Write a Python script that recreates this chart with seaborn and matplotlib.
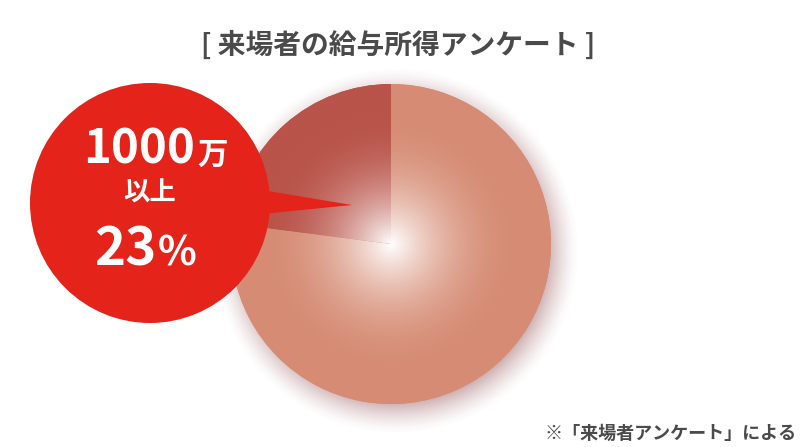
import numpy as np
import matplotlib
matplotlib.use("Agg")
import matplotlib.pyplot as plt
import seaborn as sns
from matplotlib.colors import to_rgb
from matplotlib.patches import Circle, Polygon

# survey data
labels = ["1000万以上", "1000万未満"]
shares = [23, 77]
slice_colors = ["#b9544a", "#d68c74"]
title = "[ 来場者の給与所得アンケート ]"
note = "※「来場者アンケート」による"

sns.set_theme(style="white")
plt.rcParams['font.family'] = ['Noto Sans CJK JP', 'DejaVu Sans']

fig = plt.figure(figsize=(8, 4.47), dpi=100)
ax = fig.add_axes([0, 0, 1, 1])

cx, cy, R = 391, 244, 160

# soft shadow behind the pie
n = 400
sx, sy = cx + 5, cy + 7
ext = R + 45
gx, gy = np.meshgrid(np.linspace(sx - ext, sx + ext, n), np.linspace(sy - ext, sy + ext, n))
d = np.hypot(gx - sx, gy - sy)
a = np.clip((R + 24 - d) / 40, 0, 1) ** 1.5 * 0.65
shadow = np.zeros((n, n, 4))
shadow[..., :3] = np.array([150, 85, 90]) / 255
shadow[..., 3] = a
ax.imshow(shadow, extent=[sx - ext, sx + ext, sy + ext, sy - ext], zorder=1, interpolation="bilinear")

# y axis runs downward, so clockwise in data = counterclockwise on screen
wedges, _ = ax.pie(shares, colors=slice_colors, startangle=-90, counterclock=False,
                   center=(cx, cy), radius=R, wedgeprops=dict(linewidth=0))
for w in wedges:
    w.set_zorder(2)

# radial white glow inside each slice
gx, gy = np.meshgrid(np.linspace(cx - R, cx + R, n), np.linspace(cy - R, cy + R, n))
rn = np.hypot(gx - cx, gy - cy) / R
t = 1 - (1 - np.clip(rn / 0.8, 0, 1)) ** 2
for w, c in zip(wedges, slice_colors):
    rgb = np.array(to_rgb(c))
    img = np.ones((n, n, 3)) * (1 - t[..., None]) + rgb * t[..., None]
    im = ax.imshow(img, extent=[cx - R, cx + R, cy + R, cy - R], zorder=3, interpolation="bilinear")
    im.set_clip_path(w)

# callout bubble
red = "#e4231a"
ax.add_patch(Circle((150, 203), 120, color=red, zorder=5, lw=0))
ax.add_patch(Polygon([(262, 190), (352, 205), (262, 214)], closed=True, color=red, zorder=5, lw=0))

ax.text(195, 163, "1000", color="white", fontsize=34, fontweight="bold", ha="right", va="baseline", zorder=6)
ax.text(197, 164, "万", color="white", fontsize=22, fontweight="bold", ha="left", va="baseline", zorder=6)
ax.text(150, 193, "以上", color="white", fontsize=19, fontweight="bold", ha="center", va="center", zorder=6)
ax.text(157, 265, "23", color="white", fontsize=38, fontweight="bold", ha="right", va="baseline", zorder=6)
ax.text(158, 265, "%", color="white", fontsize=29, fontweight="bold", ha="left", va="baseline", zorder=6)

ax.text(398, 45, title, color="#4a4a4a", fontsize=20, fontweight="bold", ha="center", va="center")
ax.text(797, 433, note, color="#4a4a4a", fontsize=13, fontweight="bold", ha="right", va="center")

ax.set_xlim(0, 800)
ax.set_ylim(447, 0)
ax.set_aspect("auto")
ax.axis("off")

fig.savefig("out.png", dpi=100, facecolor="white")
